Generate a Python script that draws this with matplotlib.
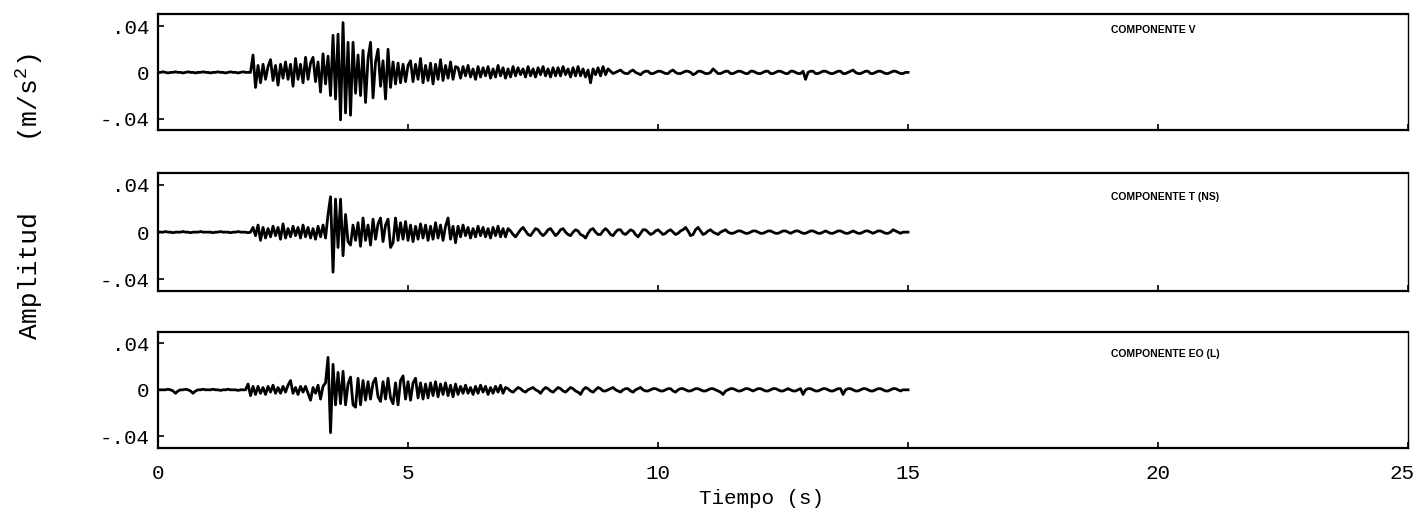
import matplotlib
matplotlib.use("Agg")
import matplotlib.pyplot as plt
import matplotlib.transforms as mtransforms
import numpy as np

plt.rcParams['font.family'] = ['Liberation Mono', 'DejaVu Sans Mono']
plt.rcParams['mathtext.default'] = 'regular'

# sample step of the digitised records (s)
dt = 0.05

# amplitudes, in 0.001 m/s^2, one row per second
comp_v = [
    0, 0, 0.5, 0, -0.5, 0, 0, 0.5, 0, 0, -0.5, 0, 0.5, 0, 0, -0.5, 0, 0, 0.5, 0,
    0, -0.5, 0, 0, 0.5, 0, 0, -0.5, 0, 0.5, 0, 0, -0.5, 0, 0.5, 0, 0, 0, 15, -13,
    6, -9, 7, -6, 5, 11, -7, 6, -11, 7, -5, 9, -6, 7, -12, 12, -6, 7, -9, 13,
    -6, 8, 13, -8, 9, -17, 16, -10, 14, -20, 32, -23, 33, -41, 43, -35, 26, -37, 26, -18,
    15, -20, 19, -26, 12, 26, -22, 9, 20, -12, 10, -23, 20, -13, 9, -10, 8, -9, 7, -8,
    6, 10, -8, 7, -6, 12, -9, 6, -7, 8, -10, 7, -6, 11, -7, 6, -5, 9, -6, 5,
    4, -5, 5, -3, 6, -4, 3, -6, 5, -4, 4, -3, 5, -5, 3, -4, 6, -3, 4, -5,
    3, -4, 5, -3, 4, -2, 3, -4, 5, -3, 3, -4, 4, -2, 5, -3, 3, -4, 4, -3,
    4, -3, 5, -2, 3, -4, 4, -3, 5, -3, 3, -4, 2, -9, 3, -2, 4, -3, 5, -2,
    3, 1, -1, 0, 1, 2, 0, -1, -1, 1, 2, 0, -1, -2, 0, 1, 1, -1, -1, 0,
    1, 1, 0, -1, -1, 1, 2, 0, -1, -1, 0, 1, 1, 0, -2, -1, 1, 1, 0, -1,
    -1, 0, 3, 1, -1, -1, 0, 1, 1, -1, -1, 0, 1, 1, 0, -1, -1, 1, 1, 0,
    -1, -1, 0, 1, 1, -1, -1, 0, 1, 1, 0, -1, -1, 1, 1, 0, -1, -1, 1, -6,
    0, 1, 1, -1, -1, 0, 1, 1, 0, -1, -1, 0, 1, 1, -1, -1, 0, 1, 2, 0,
    -1, -1, 0, 1, 1, -1, -1, 0, 1, 1, 0, -1, -1, 0, 1, 1, 0, -1, -1, 0,
    0,
]

comp_t = [
    0, 0, 0, 0.5, 0, 0, -0.5, 0, 0, 0, 0.5, 0, 0, -0.5, 0, 0, 0, 0.5, 0, 0,
    0, 0, -0.5, 0, 0, 0.5, 0, 0, 0, -0.5, 0, 0, 0.5, 0, 0, 0, -0.5, 0, 4, -3,
    6, -7, 4, -5, 3, -4, 5, -3, 4, -6, 7, -5, 3, -4, 5, -3, 4, -5, 6, -4,
    4, -5, 3, -6, 5, -4, 6, -5, 15, 30, -34, 28, -13, 28, -20, 15, -8, -11, 6, -7,
    8, -12, 12, -7, 6, -11, 11, -6, 7, 12, -8, 6, 11, -13, -9, 12, -7, 8, -6, 9,
    -7, 6, -8, 5, -6, 7, -5, 6, -7, 5, -6, 8, -5, 6, -7, 5, 12, -6, 5, -9,
    5, -4, 6, -3, 4, -5, 3, -4, 5, -3, 4, -4, 3, -5, 4, -3, 5, -4, 3, -4,
    3, 1, -2, -4, -1, 2, 4, 1, -2, -3, 0, 3, 2, -1, -3, -1, 2, 3, 0, -3,
    -1, 2, 3, 0, -2, -3, 0, 2, 1, -2, -3, -5, -1, 2, 3, 0, -2, -2, 1, 3,
    1, -2, -3, 0, 2, 2, -1, -2, 0, 2, 1, -2, -4, -1, 2, 2, 0, -2, -1, 1,
    2, 0, -2, -1, 1, 2, 0, -2, -1, 1, 2, 4, 1, -3, -2, 2, 4, 1, -2, -1,
    1, 2, 0, -1, -2, 0, 1, 2, 0, -1, -1, 0, 1, 1, 0, -1, -1, 0, 1, 1,
    0, -1, -1, 0, 1, 1, 0, -1, -1, 0, 1, 1, 0, -1, 0, 1, 1, 0, -1, -1,
    0, 1, 1, 0, -1, -1, 0, 1, 0, -1, -1, 0, 1, 1, 0, -1, -1, 0, 1, 0,
    -1, -1, 0, 1, 1, 0, -1, 0, 1, 1, 0, -1, -1, 0, 2, 1, 0, -1, 0, 0,
    0,
]

comp_eo = [
    0, 0, 0, 0, 0.5, 0, -1, -3, -1, 0, 0, 0.5, 0, -1, -3, -1, 0, 0, 0.5, 0,
    0, 0, 0.5, 0, 0, -0.5, 0, 0, 0.5, 0, 0, 0, -0.5, 0, 0, 0, 5, -5, 3, -4,
    3, -3, 2, -4, 3, -2, 4, -3, 2, -3, 3, -2, 4, 8, -3, 2, -4, 3, -2, 3,
    -3, -9, 2, -3, 4, -8, 3, 6, 28, -37, 22, -13, 15, -12, 16, -13, 5, 11, -13, -15,
    10, -13, 8, -9, 7, -8, 6, 10, -6, -10, 7, -8, 10, -7, -12, 6, -13, 8, 12, -8,
    7, -9, 6, 10, -7, 6, -8, 5, -7, 6, -5, 7, -6, 5, -4, 6, -5, 4, -6, 5,
    -4, 3, -3, 4, -3, 2, -4, 3, -3, 4, -2, 3, -4, 2, -3, 3, -2, 4, -3, 2,
    1, -1, -2, 0, 2, 1, -1, -2, 0, 1, 2, 0, -1, -3, 0, 2, 1, -1, -2, 0,
    2, 1, -1, -2, 0, 2, 1, -1, -2, -4, 0, 2, 1, -1, -2, 0, 2, 1, -1, -1,
    0, 1, 2, 0, -1, -2, 0, 1, 1, -1, -2, 0, 1, 2, 0, -1, -1, 0, 1, 1,
    0, -1, -1, 0, 1, 1, -1, -2, 0, 1, 1, 0, -1, -1, 0, 1, 1, 0, -1, -1,
    0, 1, 1, 0, -1, -2, -4, -1, 0, 1, 1, 0, -1, -1, 0, 1, 1, 0, -1, 0,
    1, 1, 0, -1, -1, 0, 1, 1, 0, -1, -1, 0, 1, 0, -1, -1, 0, 1, -4, 0,
    1, 1, 0, -1, -1, 0, 1, 1, 0, -1, -1, 0, 1, 1, -4, 0, 1, 1, 0, -1,
    -1, 0, 1, 1, 0, -1, -1, 0, 1, 1, 0, -1, -1, 0, 1, 1, 0, -1, 0, 0,
    0,
]

labels = ['COMPONENTE V', 'COMPONENTE T (NS)', 'COMPONENTE EO (L)']
x_ticks = [0, 5, 10, 15, 20, 25]
y_ticks = [-0.04, 0, 0.04]
y_ticklabels = ['-.04', '0', '.04']

fig = plt.figure(figsize=(14.16, 5.17), dpi=100)

# panel boxes (left, bottom, width, height) in figure fractions
boxes = [
    (0.1116, 0.748, 0.8828, 0.224),
    (0.1116, 0.437, 0.8828, 0.228),
    (0.1116, 0.134, 0.8828, 0.224),
]
label_y = [0.87, 0.80, 0.81]

for i, (rec, lab) in enumerate(zip([comp_v, comp_t, comp_eo], labels)):
    ax = fig.add_axes(boxes[i])
    amp = np.array(rec) / 1000.0
    t = np.arange(len(amp)) * dt
    ax.plot(t, amp, color='black', lw=2.0)

    ax.set_xlim(0, 25)
    ax.set_ylim(-0.05, 0.05)
    ax.set_xticks(x_ticks)
    ax.set_yticks(y_ticks)
    ax.set_yticklabels(y_ticklabels)
    ax.tick_params(direction='in', length=4, width=1.2, labelsize=15, pad=6)
    if i < 2:
        ax.tick_params(labelbottom=False)
    else:
        ax.tick_params(axis='x', pad=12)
        # pull the last label ("25") inside the figure edge
        last = ax.get_xticklabels()[-1]
        last.set_transform(last.get_transform() +
                           mtransforms.ScaledTranslation(-6 / 100, 0, fig.dpi_scale_trans))
    for s in ax.spines.values():
        s.set_linewidth(1.6)
    ax.spines['right'].set_linewidth(1.0)

    ax.text(0.762, label_y[i], lab, transform=ax.transAxes,
            family='Liberation Sans', fontsize=7.5,
            fontweight='bold', va='center', ha='left')

fig.text(0.021, 0.468, 'Amplitud', rotation=90,
         ha='center', va='center', fontsize=19)
fig.text(0.021, 0.812, '(m/s$^2$)', rotation=90,
         ha='center', va='center', fontsize=19)
fig.text(0.538, 0.035, 'Tiempo (s)', ha='center', va='center', fontsize=15)

fig.savefig('out.png', dpi=100)
